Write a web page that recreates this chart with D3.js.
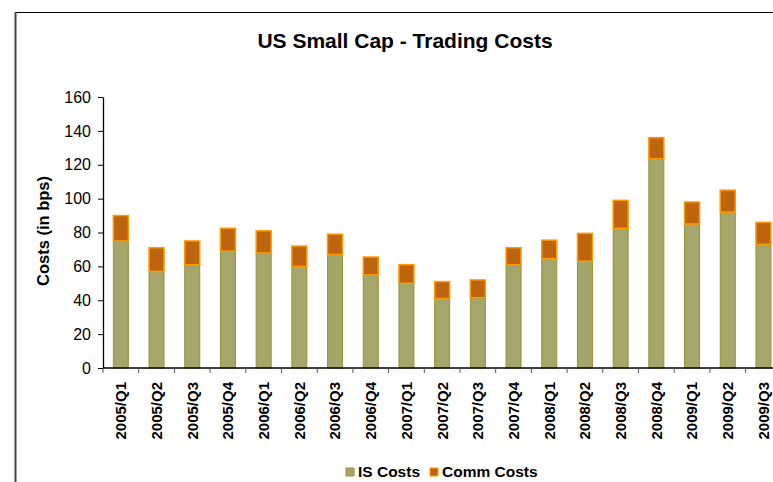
<!DOCTYPE html>
<html>
<head>
<meta charset="utf-8">
<script src="https://cdn.jsdelivr.net/npm/d3@7"></script>
<style>
  body { margin: 0; background: #fff; }
  svg text { font-family: "Liberation Sans", Arial, sans-serif; }
</style>
</head>
<body>
<div id="chart"></div>
<script>
// quarters on the x axis
const quarters = ["2005/Q1", "2005/Q2", "2005/Q3", "2005/Q4", "2006/Q1", "2006/Q2", "2006/Q3", "2006/Q4",
  "2007/Q1", "2007/Q2", "2007/Q3", "2007/Q4", "2008/Q1", "2008/Q2", "2008/Q3", "2008/Q4",
  "2009/Q1", "2009/Q2", "2009/Q3"];
// costs in bps
const isCosts = [75, 57, 61, 69, 68, 60, 67, 55, 50, 41, 41.5, 61, 64.5, 63, 82.5, 123.5, 85, 92, 73];
const commCosts = [15, 14, 14, 13.5, 13, 12, 12, 10.5, 11, 10, 10.5, 10, 11, 16.5, 16.5, 12.5, 13, 13, 13];
const yTicks = [0, 20, 40, 60, 80, 100, 120, 140, 160];

const seriesNames = ["IS Costs", "Comm Costs"];
const fills = ["#a4a66a", "#be640e"];
const strokes = ["#9a912f", "#ff9a00"];

const width = 773, height = 482;
const margin = { top: 97, left: 103, bottom: 368 };

const svg = d3.select("#chart").append("svg")
  .attr("width", width)
  .attr("height", height);

// frame (only top and left edges are inside the picture)
svg.append("line").attr("x1", 15).attr("x2", width).attr("y1", 12.5).attr("y2", 12.5)
  .attr("stroke", "#000").attr("stroke-width", 1.2);
svg.append("line").attr("x1", 15.5).attr("x2", 15.5).attr("y1", 12).attr("y2", height)
  .attr("stroke", "#444").attr("stroke-width", 2);

const x = d3.scaleBand()
  .domain(quarters)
  .range([margin.left, margin.left + quarters.length * 35.7]);

const y = d3.scaleLinear()
  .domain([0, 160])
  .range([margin.bottom, margin.top]);

const rows = quarters.map((q, i) => ({ q, is: isCosts[i], comm: commCosts[i] }));
const stacked = d3.stack().keys(["is", "comm"])(rows);

const barW = x.bandwidth() * 0.42;

svg.append("g")
  .selectAll("g")
  .data(stacked)
  .join("g")
  .attr("fill", (d, i) => fills[i])
  .attr("stroke", (d, i) => strokes[i])
  .attr("stroke-width", (d, i) => i === 0 ? 1 : 1.5)
  .selectAll("rect")
  .data(d => d)
  .join("rect")
  .attr("x", d => x(d.data.q) + (x.bandwidth() - barW) / 2)
  .attr("width", barW)
  .attr("y", d => y(d[1]))
  .attr("height", d => y(d[0]) - y(d[1]));

// y axis
const yAxis = svg.append("g")
  .attr("transform", `translate(${margin.left},0)`)
  .call(d3.axisLeft(y).tickValues(yTicks).tickSize(5).tickPadding(7).tickSizeOuter(0));
yAxis.select(".domain").attr("stroke", "#000").attr("stroke-width", 1.3);
yAxis.selectAll(".tick line").attr("stroke", "#000");
yAxis.selectAll("text").attr("font-size", 16).attr("fill", "#000")
  .style("font-family", "'Liberation Sans', Arial, sans-serif");

// x axis: ticks on the band edges
const xg = svg.append("g");
xg.append("line")
  .attr("x1", margin.left).attr("x2", width)
  .attr("y1", margin.bottom).attr("y2", margin.bottom)
  .attr("stroke", "#000").attr("stroke-width", 1.3);
xg.selectAll(".edge")
  .data(quarters)
  .join("line")
  .attr("class", "edge")
  .attr("x1", d => x(d)).attr("x2", d => x(d))
  .attr("y1", margin.bottom).attr("y2", margin.bottom + 5)
  .attr("stroke", "#555");
xg.selectAll(".lbl")
  .data(quarters)
  .join("text")
  .attr("class", "lbl")
  .attr("transform", d => `translate(${x(d) + x.bandwidth() / 2},382) rotate(-90)`)
  .attr("dy", "0.36em")
  .attr("text-anchor", "end")
  .attr("font-size", 15)
  .attr("font-weight", "bold")
  .text(d => d);

// titles
svg.append("text")
  .attr("x", 405).attr("y", 48)
  .attr("text-anchor", "middle")
  .attr("font-size", 21)
  .attr("font-weight", "bold")
  .text("US Small Cap - Trading Costs");

svg.append("text")
  .attr("transform", "translate(49,231) rotate(-90)")
  .attr("text-anchor", "middle")
  .attr("font-size", 16.5)
  .attr("font-weight", "bold")
  .text("Costs (in bps)");

// legend
const legendX = [346, 430];
const legend = svg.append("g")
  .selectAll("g")
  .data(seriesNames)
  .join("g")
  .attr("transform", (d, i) => `translate(${legendX[i]},468)`);
legend.append("rect")
  .attr("width", 8).attr("height", 8)
  .attr("fill", (d, i) => fills[i])
  .attr("stroke", (d, i) => strokes[i]);
legend.append("text")
  .attr("x", 12).attr("y", 9)
  .attr("font-size", 15.5)
  .attr("font-weight", "bold")
  .text(d => d);
</script>
</body>
</html>
